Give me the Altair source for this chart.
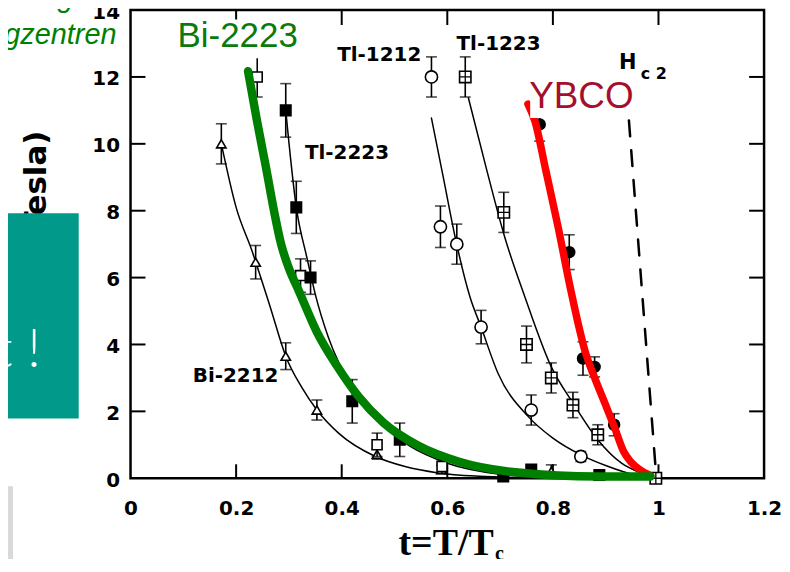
import altair as alt
import pandas as pd

W, H = 636, 470
OX, OY = 131, 9  # page position of the plot origin (used only for outside decorations)

# ---------------- data ----------------
x_ticks = [0, 0.2, 0.4, 0.6, 0.8, 1.0, 1.2]
y_ticks = [0, 2, 4, 6, 8, 10, 12, 14]
inner_x = [0.2, 0.4, 0.6, 0.8, 1.0]
inner_y = [2, 4, 6, 8, 10, 12]

# thin fit curves
bi2212_ct = [0.172, 0.20, 0.23, 0.265, 0.294, 0.325, 0.353, 0.394, 0.464, 0.52, 0.583, 0.66, 0.75]
bi2212_ch = [10.0, 8.1, 6.8, 5.1, 3.65, 2.7, 2.04, 1.35, 0.65, 0.35, 0.16, 0.06, 0.02]
tl2223_ct = [0.294, 0.314, 0.334, 0.35, 0.375, 0.42, 0.47, 0.53, 0.60, 0.70, 0.80]
tl2223_ch = [11.0, 8.1, 6.6, 5.5, 4.2, 2.7, 1.7, 0.95, 0.45, 0.12, 0.02]
tl1212_ct = [0.570, 0.593, 0.615, 0.643, 0.664, 0.696, 0.753, 0.80, 0.853, 0.90, 0.96, 1.0]
tl1212_ch = [10.77, 8.95, 7.2, 5.42, 4.52, 3.14, 1.85, 1.2, 0.7, 0.38, 0.08, 0.0]
tl1223_ct = [0.640, 0.675, 0.709, 0.747, 0.797, 0.838, 0.885, 0.93, 0.96, 1.0]
tl1223_ch = [11.37, 9.2, 7.2, 5.42, 3.33, 2.25, 1.15, 0.45, 0.2, 0.0]
hc2_t = [0.944, 0.996]
hc2_h = [10.7, 0.0]

# overlay curves
green_t = [0.2226, 0.2396, 0.2566, 0.2717, 0.2849, 0.3000, 0.3189, 0.3528, 0.3906, 0.4321,
           0.4792, 0.5453, 0.6208, 0.7340, 0.8849, 0.9849]
green_h = [12.17, 10.68, 9.29, 8.00, 7.02, 6.28, 5.60, 4.38, 3.37, 2.44,
           1.66, 0.97, 0.50, 0.17, 0.05, 0.05]
red_t = [0.7528, 0.7660, 0.7868, 0.8094, 0.8340, 0.8472, 0.8604, 0.8792, 0.8981, 0.9170,
         0.9340, 0.9472, 0.9642, 0.9849]
red_h = [11.19, 10.68, 9.19, 7.55, 5.62, 4.67, 3.83, 3.00, 2.26, 1.51,
         0.80, 0.50, 0.26, 0.08]

# measured points (t, H, error)
bi2212_t = [0.172, 0.237, 0.294, 0.353, 0.467, 0.589, 0.797]
bi2212_h = [10.0, 6.46, 3.65, 2.04, 0.72, 0.26, 0.2]
bi2212_e = [0.6, 0.5, 0.4, 0.3, 0.15, 0.12, 0.2]
bi2223_t = [0.240, 0.322, 0.467, 0.59]
bi2223_h = [12.0, 6.06, 1.0, 0.35]
bi2223_e = [0.6, 0.5, 0.35, 0.2]
tl2223_t = [0.294, 0.314, 0.341, 0.42, 0.51, 0.706, 0.759, 0.888]
tl2223_h = [11.0, 8.1, 6.0, 2.3, 1.15, 0.05, 0.26, 0.1]
tl2223_e = [0.8, 0.78, 0.5, 0.65, 0.5, 0.0, 0.1, 0.0]
tl1212_t = [0.570, 0.587, 0.618, 0.664, 0.759, 0.853]
tl1212_h = [12.0, 7.52, 7.0, 4.52, 2.04, 0.65]
tl1212_e = [0.6, 0.62, 0.6, 0.5, 0.45, 0.15]
tl1223_t = [0.634, 0.707, 0.750, 0.797, 0.838, 0.885, 0.995]
tl1223_h = [12.0, 7.95, 4.0, 3.0, 2.19, 1.3, 0.0]
tl1223_e = [0.6, 0.6, 0.55, 0.45, 0.38, 0.3, 0.15]
ybco_t = [0.775, 0.831, 0.857, 0.879, 0.916]
ybco_h = [10.58, 6.76, 3.58, 3.33, 1.6]
ybco_e = [0.5, 0.52, 0.5, 0.3, 0.33]

# in-plot labels
lab_text = ["Tl-1212", "Tl-1223", "Tl-2223", "Bi-2212"]
lab_t = [0.471, 0.697, 0.410, 0.199]
lab_h = [12.67, 12.99, 9.72, 3.07]

# ---------------- helpers ----------------
XS = alt.Scale(domain=[0, 1.2], nice=False, zero=False)
YS = alt.Scale(domain=[0, 14], nice=False, zero=False)
XA = alt.Axis(values=x_ticks, format="~g", domain=False, ticks=False, grid=False,
              labelFont="DejaVu Sans", labelFontWeight="bold", labelFontSize=20,
              labelColor="black", labelPadding=20, labelFlush=False, labelOverlap=False)
YA = alt.Axis(values=y_ticks, format="~g", domain=False, ticks=False, grid=False,
              labelFont="DejaVu Sans", labelFontWeight="bold", labelFontSize=20,
              labelColor="black", labelPadding=11, labelFlush=False, labelOverlap=False,
              labelOffset=2)


def X(f):
    return alt.X(f, type="quantitative", scale=XS, axis=XA, title=None)


def Y(f):
    return alt.Y(f, type="quantitative", scale=YS, axis=YA, title=None)


one = pd.DataFrame({"a": [0]})


def curve(t, h, color="black", width=1.5, dash=None, interp="monotone"):
    kw = dict(color=color, strokeWidth=width, interpolate=interp, strokeCap="round")
    if dash:
        kw["strokeDash"] = dash
    return alt.Chart(pd.DataFrame({"t": t, "h": h})).mark_line(**kw).encode(
        x=X("t"), y=Y("h"), order="t:Q")


def series(t, h, e, shape, filled, size, extra_shape=None):
    df = pd.DataFrame({"t": t, "h": h,
                       "lo": [a - b for a, b in zip(h, e)],
                       "hi": [a + b for a, b in zip(h, e)]})
    base = alt.Chart(df)
    bars = base.mark_rule(color="black", strokeWidth=1.6).encode(x=X("t"), y=Y("lo"), y2="hi:Q")
    cap_lo = base.mark_tick(orient="horizontal", color="black", size=11, thickness=1.6).encode(
        x=X("t"), y=Y("lo"))
    cap_hi = base.mark_tick(orient="horizontal", color="black", size=11, thickness=1.6).encode(
        x=X("t"), y=Y("hi"))
    pts = base.mark_point(shape=shape, filled=True, fill="black" if filled else "white",
                          stroke="black", strokeWidth=1.6, size=size, opacity=1).encode(
        x=X("t"), y=Y("h"))
    layers = [bars, cap_lo, cap_hi, pts]
    if extra_shape:
        layers.append(base.mark_point(shape=extra_shape, filled=False, stroke="black",
                                      strokeWidth=1.3, size=size, opacity=1).encode(
            x=X("t"), y=Y("h")))
    return layers


# ---------------- decorations outside plot ----------------
ytitle = alt.Chart(one).mark_text(text="H* (Tesla)", color="black", font="DejaVu Sans",
                                  fontWeight="bold", fontSize=31, angle=270, align="right",
                                  baseline="middle").encode(
    x=alt.value(37 - OX), y=alt.value(130 - OY))
teal = alt.Chart(one).mark_rect(color="#00998A").encode(
    x=alt.value(0 - OX), x2=alt.value(79 - OX), y=alt.value(213 - OY), y2=alt.value(419 - OY))
grey = alt.Chart(one).mark_rect(color="#D9D9D9").encode(
    x=alt.value(0 - OX), x2=alt.value(13 - OX), y=alt.value(487 - OY), y2=alt.value(580 - OY))
teal_txt = alt.Chart(one).mark_text(text="t !", color="white", font="Lato", fontWeight=300,
                                    fontSize=54, align="right", baseline="alphabetic").encode(
    x=alt.value(41 - OX), y=alt.value(367 - OY))
green1 = alt.Chart(one).mark_text(text="nanoskalige", color="#008000", font="Liberation Sans",
                                  fontStyle="italic", fontSize=29, align="right",
                                  baseline="alphabetic").encode(
    x=alt.value(90 - OX), y=alt.value(6 - OY))
green2 = alt.Chart(one).mark_text(text="Pinningzentren", color="#008000", font="Liberation Sans",
                                  fontStyle="italic", fontSize=29, align="right",
                                  baseline="alphabetic").encode(
    x=alt.value(117 - OX), y=alt.value(43 - OY))
xtitle = alt.Chart(one).mark_text(text="t=T/T", color="black", font="Liberation Serif",
                                  fontWeight="bold", fontSize=38, align="left",
                                  baseline="alphabetic").encode(
    x=alt.value(400 - OX), y=alt.value(556 - OY))
xtitle_sub = alt.Chart(one).mark_text(text="c", color="black", font="Liberation Serif",
                                      fontWeight="bold", fontSize=20, align="left",
                                      baseline="alphabetic").encode(
    x=alt.value(497 - OX), y=alt.value(561 - OY))

# ---------------- inward ticks ----------------
dfx = pd.DataFrame({"t": inner_x})
dfy = pd.DataFrame({"h": inner_y})
tick_b = alt.Chart(dfx).mark_rule(color="black", strokeWidth=2).encode(
    x=X("t"), y=alt.value(H - 14), y2=alt.value(H))
tick_t = alt.Chart(dfx).mark_rule(color="black", strokeWidth=2).encode(
    x=X("t"), y=alt.value(0), y2=alt.value(15))
tick_l = alt.Chart(dfy).mark_rule(color="black", strokeWidth=2).encode(
    y=Y("h"), x=alt.value(0), x2=alt.value(15))
tick_r = alt.Chart(dfy).mark_rule(color="black", strokeWidth=2).encode(
    y=Y("h"), x=alt.value(W - 15), x2=alt.value(W))

# ---------------- labels ----------------
labels = alt.Chart(pd.DataFrame({"t": lab_t, "h": lab_h, "s": lab_text})).mark_text(
    font="DejaVu Sans", fontWeight="bold", fontSize=20, color="black").encode(
    x=X("t"), y=Y("h"), text="s:N")
hc2_H = alt.Chart(pd.DataFrame({"t": [0.942], "h": [12.43]})).mark_text(
    text="H", font="DejaVu Sans", fontWeight="bold", fontSize=21, color="black").encode(
    x=X("t"), y=Y("h"))
hc2_c = alt.Chart(pd.DataFrame({"t": [0.991], "h": [12.1]})).mark_text(
    text="c 2", font="DejaVu Sans", fontWeight="bold", fontSize=16, color="black").encode(
    x=X("t"), y=Y("h"))

box_bi = alt.Chart(pd.DataFrame({"t": [0.079], "t2": [0.325], "h": [13.72], "h2": [12.56]})).mark_rect(
    color="white").encode(x=X("t"), x2="t2:Q", y=Y("h"), y2="h2:Q")
txt_bi = alt.Chart(pd.DataFrame({"t": [0.203], "h": [13.23]})).mark_text(
    text="Bi-2223", font="Liberation Sans", fontSize=35, color="#0A7A0A", baseline="middle").encode(
    x=X("t"), y=Y("h"))
box_y = alt.Chart(pd.DataFrame({"t": [0.757], "t2": [0.955], "h": [11.93], "h2": [10.77]})).mark_rect(
    color="white").encode(x=X("t"), x2="t2:Q", y=Y("h"), y2="h2:Q")
txt_y = alt.Chart(pd.DataFrame({"t": [0.854], "h": [11.4]})).mark_text(
    text="YBCO", font="Liberation Sans", fontSize=37, color="#A50F2D", baseline="middle").encode(
    x=X("t"), y=Y("h"))

cross = "M-1,0L1,0M0,-1L0,1"

layers = [ytitle, teal, grey, teal_txt, green1, green2, xtitle, xtitle_sub,
          tick_b, tick_t, tick_l, tick_r,
          curve(bi2212_ct, bi2212_ch), curve(tl2223_ct, tl2223_ch),
          curve(tl1212_ct, tl1212_ch), curve(tl1223_ct, tl1223_ch),
          curve(hc2_t, hc2_h, width=2.5, dash=[16, 14], interp="linear")]
layers += series(bi2212_t, bi2212_h, bi2212_e, "triangle-up", False, 90)
layers += series(bi2223_t, bi2223_h, bi2223_e, "square", False, 100)
layers += series(tl2223_t, tl2223_h, tl2223_e, "square", True, 110)
layers += series(tl1212_t, tl1212_h, tl1212_e, "circle", False, 150)
layers += series(tl1223_t, tl1223_h, tl1223_e, "square", False, 130, extra_shape=cross)
layers += series(ybco_t, ybco_h, ybco_e, "circle", True, 120)
layers += [labels, hc2_H, hc2_c,
           curve(red_t, red_h, color="#FF0000", width=7.5),
           curve(green_t, green_h, color="#008000", width=8.5),
           box_bi, txt_bi, box_y, txt_y]

chart = alt.layer(*layers).properties(
    width=W, height=H,
    autosize=alt.AutoSizeParams(type="none"),
    padding={"left": OX - 8, "top": OY - 8, "right": 18, "bottom": 80},
    background="white",
).configure_view(stroke="black", strokeWidth=2.5)

chart.save("out.html", embed_options={"renderer": "svg", "actions": False})
